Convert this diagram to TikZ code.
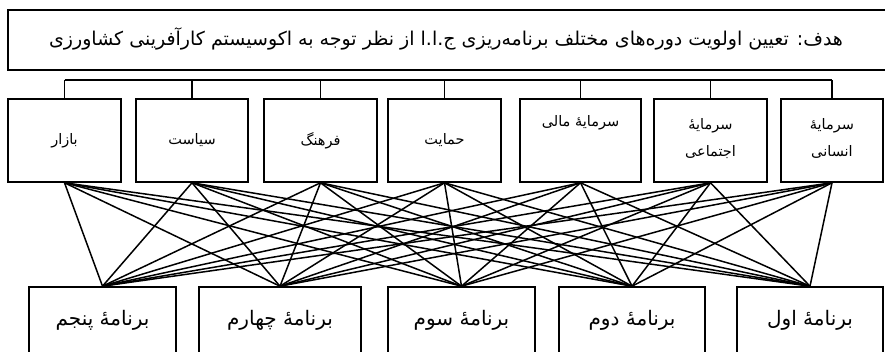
\documentclass[tikz,border=0pt]{standalone}
\usepackage{fontspec}
\newfontfamily\arabicfont[Script=Arabic]{DejaVu Sans}
\TeXXeTstate=1
\newcommand{\fa}[1]{{\arabicfont\beginR #1\endR}}
\begin{document}
\begin{tikzpicture}[x=1pt,y=-1pt,
  box/.style={draw, line width=1.6pt, inner sep=0pt},
  link/.style={line width=1.5pt},
  toptxt/.style={font=\fontsize{14.5}{27}\selectfont, align=center, inner sep=0pt},
  bottxt/.style={font=\fontsize{20}{24}\selectfont, inner sep=0pt}]
\useasboundingbox (0,0) rectangle (885,352);
\fill[white] (0,0) rectangle (885,352);
% goal box
\node[box, minimum width=882pt, minimum height=60pt, anchor=north west] (goal) at (7,9) {};
\node[font=\fontsize{19}{22}\selectfont, inner sep=0pt] (goaltxt) at (446,39)
  {\fa{هدف: تعیین اولویت دوره‌های مختلف برنامه‌ریزی ج.ا.ا از نظر توجه به اکوسیستم کارآفرینی کشاورزی}};
% top boxes
\node[box, minimum width=113pt, minimum height=83pt] (t1) at (64.5,140.5) {};
\node[box, minimum width=112pt, minimum height=83pt] (t2) at (192,140.5) {};
\node[box, minimum width=113pt, minimum height=83pt] (t3) at (320.5,140.5) {};
\node[box, minimum width=113pt, minimum height=83pt] (t4) at (444.5,140.5) {};
\node[box, minimum width=121pt, minimum height=83pt] (t5) at (580.5,140.5) {};
\node[box, minimum width=113pt, minimum height=83pt] (t6) at (710.5,140.5) {};
\node[box, minimum width=102pt, minimum height=83pt] (t7) at (832,140.5) {};
\node[toptxt] (t1txt) at (64.5,140.5) {\fa{بازار}};
\node[toptxt] (t2txt) at (192,140.5) {\fa{سیاست}};
\node[toptxt] (t3txt) at (320.5,140.5) {\fa{فرهنگ}};
\node[toptxt] (t4txt) at (444.5,140.5) {\fa{حمایت}};
\node[toptxt] (t5txt) at (580.5,123) {\fa{سرمایهٔ مالی}};
\node[toptxt] (t6txt) at (710.5,138.5) {\fa{سرمایهٔ}\\\fa{اجتماعی}};
\node[toptxt] (t7txt) at (832,138.5) {\fa{سرمایهٔ}\\\fa{انسانی}};
% bus
\coordinate (busL) at (64.5,80);
\coordinate (busR) at (832,80);
\draw[link] (busL) -- (busR);
\foreach \t in {t1,t2,t3,t4,t5,t6,t7}
  \draw[link] (\t.north) -- (\t.north |- busL);
% bottom boxes
\node[box, minimum width=147pt, minimum height=75pt] (b5) at (102.5,324.5) {};
\node[box, minimum width=162pt, minimum height=75pt] (b4) at (280,324.5) {};
\node[box, minimum width=147pt, minimum height=75pt] (b3) at (461.5,324.5) {};
\node[box, minimum width=146pt, minimum height=75pt] (b2) at (632,324.5) {};
\node[box, minimum width=146pt, minimum height=75pt] (b1) at (810,324.5) {};
\node[bottxt] (b5txt) at (102.5,320) {\fa{برنامهٔ پنجم}};
\node[bottxt] (b4txt) at (280,320) {\fa{برنامهٔ چهارم}};
\node[bottxt] (b3txt) at (461.5,320) {\fa{برنامهٔ سوم}};
\node[bottxt] (b2txt) at (632,320) {\fa{برنامهٔ دوم}};
\node[bottxt] (b1txt) at (810,320) {\fa{برنامهٔ اول}};
% links
\foreach \t in {t1,t2,t3,t4,t5,t6,t7}
  \foreach \b in {b1,b2,b3,b4,b5}
    \draw[link] (\t.south) -- (\b.north);
\end{tikzpicture}
\end{document}
